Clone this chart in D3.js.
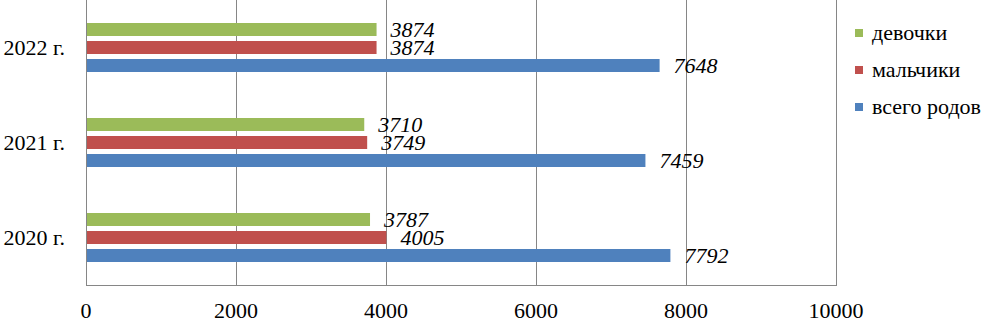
<!DOCTYPE html>
<html><head><meta charset="utf-8">
<script src="https://cdn.jsdelivr.net/npm/d3@7"></script>
<style>
body{margin:0;background:#fff}
svg{display:block}
svg text{font-family:"Liberation Serif","Times New Roman",Tinos,serif;fill:#000}
</style>
</head><body>
<svg id="c" width="985" height="320"></svg>
<script>
const categories = ["2022 г.", "2021 г.", "2020 г."];
const seriesNames = ["девочки", "мальчики", "всего родов"];
const girls = [3874, 3710, 3787];
const boys = [3874, 3749, 4005];
const total = [7648, 7459, 7792];
const xTicks = [0, 2000, 4000, 6000, 8000, 10000];
const colors = ["#9BBB59", "#C0504D", "#4F81BD"];

const series = [girls, boys, total];
const svg = d3.select("#c");
const L = 86, R = 836, T = 0, B = 285;
const x = d3.scaleLinear().domain([0, 10000]).range([L, R]);
const y = d3.scaleBand().domain(categories).range([T, B]);
const inner = d3.scaleBand().domain([0,1,2]).range([-24.5, 24.5]).paddingInner(0.278);

// gridlines
svg.append("g").selectAll("line").data(xTicks).join("line")
  .attr("x1", d => x(d) + 0.5).attr("x2", d => x(d) + 0.5)
  .attr("y1", T).attr("y2", B)
  .attr("stroke", "#868686").attr("stroke-width", 1);
// bottom axis line
svg.append("line").attr("x1", L).attr("x2", R + 1).attr("y1", B + 0.5).attr("y2", B + 0.5)
  .attr("stroke", "#868686");

// x tick labels
svg.append("g").selectAll("text").data(xTicks).join("text")
  .attr("x", d => x(d)).attr("y", 318)
  .attr("text-anchor", "middle")
  .style("font-size", "22px")
  .text(d => d);

// category labels
svg.append("g").selectAll("text").data(categories).join("text")
  .attr("x", 65).attr("y", d => y(d) + y.bandwidth() / 2)
  .attr("dy", "0.35em")
  .attr("text-anchor", "end")
  .style("font-size", "22px")
  .text(d => d);

// bars
series.forEach((vals, si) => {
  const g = svg.append("g");
  g.selectAll("rect").data(vals).join("rect")
    .attr("x", x(0) + 1)
    .attr("y", (d, i) => y(categories[i]) + y.bandwidth() / 2 + inner(si))
    .attr("width", d => x(d) - x(0) - 1)
    .attr("height", inner.bandwidth())
    .attr("fill", colors[si]);
  g.selectAll("text").data(vals).join("text")
    .attr("x", d => x(d) + 14)
    .attr("y", (d, i) => y(categories[i]) + y.bandwidth() / 2 + inner(si) + inner.bandwidth() / 2)
    .attr("dy", "0.36em")
    .style("font-style", "italic").style("font-size", "22px")
    .text(d => d);
});

// legend
const lg = svg.append("g").selectAll("g").data(seriesNames).join("g")
  .attr("transform", (d, i) => `translate(855, ${33 + i * 37})`);
lg.append("rect").attr("x", 0).attr("y", -4).attr("width", 8).attr("height", 8)
  .attr("fill", (d, i) => colors[i]);
lg.append("text").attr("x", 17).attr("y", 0).attr("dy", "0.33em")
  .style("font-size", "22px")
  .text(d => d);
</script>
</body></html>
